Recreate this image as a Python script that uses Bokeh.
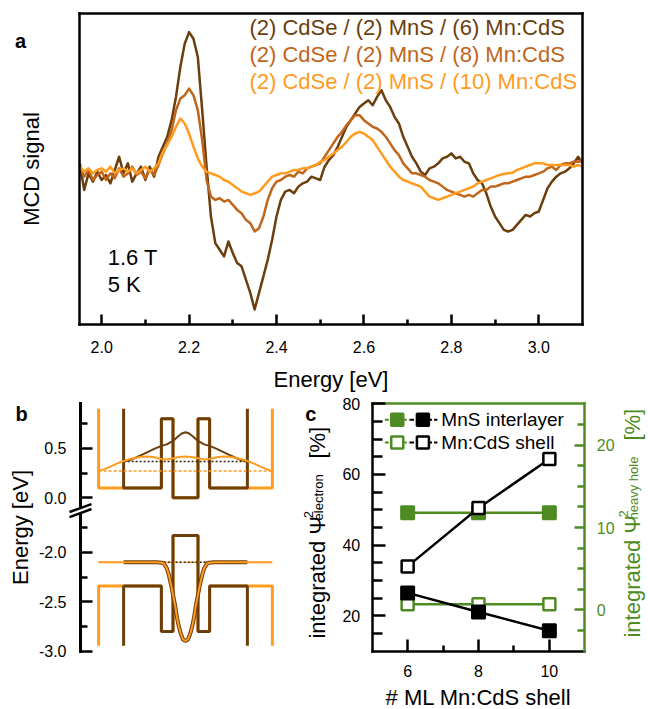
import math
from bokeh.plotting import figure
from bokeh.models import Range1d, LinearAxis, FixedTicker, Label, Arrow, PrintfTickFormatter
from bokeh.layouts import column, row
from bokeh.embed import file_html
from bokeh.resources import INLINE

FONT = "Liberation Sans"
C6 = "#6b3e0c"
C8 = "#c1651b"
C10 = "#ff9b1e"
GREEN = "#4e8c23"

# ---------------- panel a data ----------------
energy = [1.95, 1.96, 1.97, 1.98, 1.99,
          2.00, 2.01, 2.02, 2.03, 2.04, 2.05, 2.06, 2.07, 2.08, 2.09,
          2.10, 2.11, 2.12, 2.13, 2.14, 2.15, 2.16, 2.17, 2.18, 2.19,
          2.20, 2.21, 2.22, 2.23, 2.24, 2.25, 2.26, 2.27, 2.28, 2.29,
          2.30, 2.31, 2.32, 2.33, 2.34, 2.35, 2.36, 2.37, 2.38, 2.39,
          2.40, 2.41, 2.42, 2.43, 2.44, 2.45, 2.46, 2.47, 2.48, 2.49,
          2.50, 2.51, 2.52, 2.53, 2.54, 2.55, 2.56, 2.57, 2.58, 2.59,
          2.60, 2.61, 2.62, 2.63, 2.64, 2.65, 2.66, 2.67, 2.68, 2.69,
          2.70, 2.71, 2.72, 2.73, 2.74, 2.75, 2.76, 2.77, 2.78, 2.79,
          2.80, 2.81, 2.82, 2.83, 2.84, 2.85, 2.86, 2.87, 2.88, 2.89,
          2.90, 2.91, 2.92, 2.93, 2.94, 2.95, 2.96, 2.97, 2.98, 2.99,
          3.00, 3.01, 3.02, 3.03, 3.04, 3.05, 3.06, 3.07, 3.08, 3.09, 3.10]

mcd_6ml = [20, -60, -10, -35, -5, -30, -15, -40, 0, 40,
           -10, 20, -35, -10, 10, -30, 10, -20, 40, 70,
           100, 150, 220, 310, 380, 415, 395, 340, 180, 10,
           -140, -220, -240, -260, -215, -250, -280, -290, -330, -370,
           -420, -370, -320, -270, -210, -140, -90, -65, -60, -70,
           -50, -40, -35, -20, -25, -30, 10, 30, 45, 70,
           100, 130, 150, 170, 190, 200, 210, 195, 220, 240,
           210, 190, 160, 140, 100, 70, 40, 20, -5, -15,
           5, 10, 20, 35, 40, 50, 35, 40, 25, 20,
           -10, -30, -40, -70, -110, -140, -160, -180, -185, -180,
           -165, -150, -135, -140, -130, -125, -90, -55, -35, -20,
           -10, -5, 5, 20, 40, 20]

mcd_8ml = [10, -20, 0, -30, -15, -5, -30, -10, -25, 5,
           -20, -10, 10, -15, -5, -25, 0, -15, 15, 50,
           80, 120, 180, 215, 225, 245, 225, 180, 90, -30,
           -80, -90, -85, -95, -90, -105, -120, -130, -150, -160,
           -185, -175, -140, -90, -55, -35, -30, -20, -15, -20,
           -5, -10, 5, 10, 15, 20, 40, 60, 80, 100,
           115, 135, 150, 165, 165, 150, 140, 130, 125, 115,
           100, 80, 60, 45, 20, 5, -10, -10, -15, -20,
           -30, -35, -40, -50, -60, -65, -70, -75, -80, -75,
           -80, -70, -60, -60, -50, -50, -45, -40, -40, -35,
           -30, -25, -20, -20, -15, -10, -5, 5, 10, 0,
           15, 20, 20, 25, 25, 30]

mcd_10ml = [10, -5, 5, -10, 0, 5, -5, 10, -10, 0,
            5, -5, 5, -10, 0, 10, -5, 5, 20, 55,
            75, 100, 130, 155, 140, 110, 70, 35, 10, -5,
            -10, -15, -20, -30, -35, -45, -55, -65, -70, -75,
            -70, -65, -50, -35, -20, -15, -10, -10, -5, 0,
            0, 5, 5, 10, 15, 25, 30, 40, 50, 60,
            70, 85, 100, 110, 115, 110, 100, 90, 70, 50,
            30, 10, -5, -20, -30, -35, -40, -45, -50, -65,
            -80, -85, -90, -85, -80, -75, -70, -65, -60, -55,
            -50, -40, -35, -30, -25, -20, -15, -12, -10, -8,
            0, 5, 10, 15, 20, 20, 20, 15, 15, 15,
            15, 15, 15, 10, 15, 10]

series_names = ["(2) CdSe / (2) MnS / (6) Mn:CdS",
                "(2) CdSe / (2) MnS / (8) Mn:CdS",
                "(2) CdSe / (2) MnS / (10) Mn:CdS"]
a_ticks = [2.0, 2.2, 2.4, 2.6, 2.8, 3.0]
a_minor = [2.1, 2.3, 2.5, 2.7, 2.9]

# ---------------- panel b data ----------------
cb_x = [-4.95, -4.95, -1.93, -1.93, -1.0, -1.0, 1.0, 1.0, 1.93, 1.93, 4.95, 4.95]
cb_e = [0.90, 0.10, 0.10, 0.80, 0.80, 0.0, 0.0, 0.80, 0.80, 0.10, 0.10, 0.90]
cb_x_wide = [-6.95, -6.95, -1.93, -1.93, -1.0, -1.0, 1.0, 1.0, 1.93, 1.93, 6.95, 6.95]
vb_e = [-2.945, -2.34, -2.34, -2.80, -2.80, -1.83, -1.83, -2.80, -2.80, -2.34, -2.34, -2.945]

ewf_6_x = [-4.95, -4.5, -4.0, -3.5, -3.0, -2.5, -1.93, -1.5, -1.0, -0.6, -0.3, 0.0,
           0.3, 0.6, 1.0, 1.5, 1.93, 2.5, 3.0, 3.5, 4.0, 4.5, 4.95]
ewf_6_e = [0.367, 0.38, 0.405, 0.435, 0.465, 0.495, 0.525, 0.54, 0.575, 0.62, 0.65, 0.663,
           0.65, 0.62, 0.575, 0.54, 0.525, 0.495, 0.465, 0.435, 0.405, 0.38, 0.367]
ewf_10_x = [-6.95, -6.5, -6.0, -5.5, -5.0, -4.5, -4.0, -3.5, -3.0, -2.5, -1.93, -1.5, -1.0, -0.5, 0.0,
            0.5, 1.0, 1.5, 1.93, 2.5, 3.0, 3.5, 4.0, 4.5, 5.0, 5.5, 6.0, 6.5, 6.95]
ewf_10_e = [0.27, 0.29, 0.315, 0.345, 0.37, 0.39, 0.405, 0.415, 0.417, 0.41, 0.392, 0.388, 0.40, 0.413, 0.417,
            0.413, 0.40, 0.388, 0.392, 0.41, 0.417, 0.415, 0.405, 0.39, 0.37, 0.345, 0.315, 0.29, 0.27]
hwf_6_x = [-4.95, -2.3, -1.9, -1.75, -1.5, -1.35, -1.15, -0.95, -0.8, -0.68, -0.55, -0.41, -0.2, 0.0,
           0.2, 0.41, 0.55, 0.68, 0.8, 0.95, 1.15, 1.35, 1.5, 1.75, 1.9, 2.3, 4.95]
hwf_10_x = [-6.95, -2.3, -1.9, -1.75, -1.5, -1.35, -1.15, -0.95, -0.8, -0.68, -0.55, -0.41, -0.2, 0.0,
            0.2, 0.41, 0.55, 0.68, 0.8, 0.95, 1.15, 1.35, 1.5, 1.75, 1.9, 2.3, 6.95]
hwf_e = [-2.10, -2.10, -2.105, -2.11, -2.16, -2.22, -2.33, -2.46, -2.56, -2.66, -2.74, -2.81, -2.88, -2.895,
         -2.88, -2.81, -2.74, -2.66, -2.56, -2.46, -2.33, -2.22, -2.16, -2.11, -2.105, -2.10, -2.10]
e_level_6 = 0.367
e_level_10 = 0.27
h_level = -2.10
shell_edge_6 = 4.95
shell_edge_10 = 6.95
b_ticks = [0.5, 0.0, -0.55, -1.05, -1.55]
b_tick_labels = ["0.5", "0.0", "-2.0", "-2.5", "-3.0"]
b_minor = [0.75, 0.25, -0.30, -0.80, -1.30]

# ---------------- panel c data ----------------
ml = [6, 8, 10]
elec_mns = [26.5, 21.1, 15.8]
elec_shell = [34.0, 50.5, 64.4]
hole_mns = [11.8, 11.8, 11.8]
hole_shell = [0.7, 0.7, 0.7]


# ---------------- helpers ----------------
def xr(lo, hi, p_lo, p_hi, width):
    s = (hi - lo) / (p_hi - p_lo)
    return Range1d(lo - p_lo * s, hi + (width - p_hi) * s)


def yr(lo, hi, p_top, p_bot, height):
    s = (hi - lo) / (p_bot - p_top)
    return Range1d(lo - (height - p_bot) * s, hi + p_top * s)


def base_fig(width, height, x_range, y_range):
    p = figure(width=width, height=height, x_range=x_range, y_range=y_range,
               output_backend="svg", toolbar_location=None,
               min_border=0, min_border_left=0, min_border_right=0,
               min_border_top=0, min_border_bottom=0)
    p.xgrid.visible = False
    p.ygrid.visible = False
    p.background_fill_color = "white"
    p.border_fill_color = "white"
    p.outline_line_color = None
    return p


def style_axis(ax, color="black", tin=10, tmin=5, standoff=10, size="16px", lw=2.5):
    ax.axis_line_color = color
    ax.axis_line_width = lw
    ax.axis_line_cap = "square"
    ax.major_tick_line_color = color
    ax.minor_tick_line_color = color
    ax.major_tick_line_width = 2.5
    ax.minor_tick_line_width = 2.5
    ax.major_tick_in = tin
    ax.major_tick_out = 0
    ax.minor_tick_in = tmin
    ax.minor_tick_out = 0
    ax.major_label_text_font = FONT
    ax.major_label_text_font_size = size
    ax.major_label_text_color = color
    ax.major_label_standoff = standoff
    ax.axis_label_text_font = FONT
    ax.axis_label_text_font_size = "22px"
    ax.axis_label_text_font_style = "normal"
    ax.axis_label_text_color = color


def border_axis(p, side, loc, bounds, color="black", **kw):
    ax = LinearAxis(ticker=FixedTicker(ticks=[], minor_ticks=[]), **kw)
    style_axis(ax, color=color, standoff=0)
    ax.major_label_text_font_size = "0px"
    ax.fixed_location = loc
    ax.bounds = bounds
    p.add_layout(ax, side)
    return ax


def lab(p, x, y, text, color="black", size="22px", style="normal", angle=0.0,
        align="left", baseline="middle", **kw):
    p.add_layout(Label(x=x, y=y, text=text, text_color=color, text_font=FONT,
                       text_font_size=size, text_font_style=style, angle=angle,
                       text_align=align, text_baseline=baseline, **kw))


# ================= panel a =================
pa = base_fig(648, 395, xr(1.95, 3.10, 79.3, 582.0, 648), yr(-465, 472, 12.7, 324.0, 395))
xa = pa.xaxis[0]
style_axis(xa, tin=10, tmin=5, standoff=16)
xa.ticker = FixedTicker(ticks=a_ticks, minor_ticks=a_minor)
xa.formatter = PrintfTickFormatter(format="%.1f")
xa.fixed_location = -465
xa.bounds = (1.95, 3.10)
xa.axis_label = "Energy [eV]"
xa.axis_label_standoff = 11
ya = pa.yaxis[0]
style_axis(ya)
ya.ticker = FixedTicker(ticks=[], minor_ticks=[])
ya.major_label_text_font_size = "0px"
ya.fixed_location = 1.95
ya.bounds = (-465, 472)
ya.axis_label = "MCD signal"
ya.axis_label_standoff = 36
border_axis(pa, "above", 472, (1.95, 3.10))
border_axis(pa, "right", 3.10, (-465, 472))

for ys, c in ((mcd_6ml, C6), (mcd_8ml, C8), (mcd_10ml, C10)):
    pa.line(energy, ys, line_color=c, line_width=2.5, line_join="round")

for name, c, yy in zip(series_names, (C6, C8, C10), (429, 349, 266)):
    lab(pa, 2.338, yy, name, color=c)
lab(pa, 2.014, -262, "1.6 T")
lab(pa, 2.014, -345, "5 K")
lab(pa, 1.802, 388, "a", size="20px", style="bold", baseline="alphabetic")

# ================= panel b =================
pb = base_fig(300, 314, xr(-8.4, 8.4, 80.0, 290.0, 300), yr(-1.55, 0.95, 8.3, 255.8, 314))
pb.extra_y_ranges = {"low": yr(-3.0, -0.5, 8.3, 255.8, 314)}
pb.xaxis.visible = False
yb = pb.yaxis[0]
style_axis(yb, tin=12, tmin=7, standoff=14, lw=3)
yb.ticker = FixedTicker(ticks=b_ticks, minor_ticks=b_minor)
yb.major_label_overrides = dict(zip(b_ticks, b_tick_labels))
yb.fixed_location = -8.4
yb.bounds = (-1.55, 0.95)
yb.axis_label = "Energy [eV]"
yb.axis_label_standoff = 3

# potentials (orange = 10 ML shell, brown = 6 ML shell)
pb.line(cb_x_wide, cb_e, line_color=C10, line_width=3)
pb.line(cb_x_wide, vb_e, line_color=C10, line_width=3, y_range_name="low")
pb.line(cb_x, cb_e, line_color=C6, line_width=3)
pb.line(cb_x, vb_e, line_color=C6, line_width=3, y_range_name="low")
# levels
pb.line([-shell_edge_10, shell_edge_10], [e_level_10, e_level_10], line_color=C10, line_width=1.5, line_dash="3 2")
pb.line([-shell_edge_6, shell_edge_6], [e_level_6, e_level_6], line_color="#3a2206", line_width=1.5, line_dash="2 2")
pb.line([-shell_edge_10, shell_edge_10], [h_level, h_level], line_color=C10, line_width=1.5, line_dash="3 2", y_range_name="low")
pb.line([-shell_edge_6, shell_edge_6], [h_level, h_level], line_color="#3a2206", line_width=1.5, line_dash="2 2", y_range_name="low")
# wavefunctions
pb.line(ewf_6_x, ewf_6_e, line_color=C6, line_width=2, line_join="round")
pb.line(ewf_10_x, ewf_10_e, line_color=C10, line_width=2, line_join="round")
pb.line(hwf_6_x, hwf_e, line_color=C6, line_width=4, line_join="round", y_range_name="low")
pb.line(hwf_10_x, hwf_e, line_color=C10, line_width=2, line_join="round", y_range_name="low")

# axis break marks
pb.add_layout(Arrow(end=None, x_start=-9.28, y_start=-0.168, x_end=-7.52, y_end=-0.088,
                    line_color="white", line_width=5))
pb.add_layout(Arrow(end=None, x_start=-9.28, y_start=-0.143, x_end=-7.52, y_end=-0.063,
                    line_color="black", line_width=2.5))
pb.add_layout(Arrow(end=None, x_start=-9.28, y_start=-0.194, x_end=-7.52, y_end=-0.113,
                    line_color="black", line_width=2.5))
lab(pb, -13.6, 0.847, "b", size="20px", style="bold", baseline="alphabetic")

# ================= panel c =================
pc = base_fig(348, 314, xr(5, 11, 71.7, 284.3, 348), yr(10, 80, 8.3, 255.7, 314))
pc.extra_y_ranges = {"hole": yr(-5, 25, 8.3, 255.7, 314)}
xc = pc.xaxis[0]
style_axis(xc, tin=12, tmin=6, standoff=14)
xc.ticker = FixedTicker(ticks=[6, 8, 10], minor_ticks=[7, 9])
xc.fixed_location = 10
xc.bounds = (5, 11)
xc.axis_label = "# ML Mn:CdS shell"
xc.axis_label_standoff = 4
yc = pc.yaxis[0]
style_axis(yc, tin=13, tmin=10, standoff=12)
yc.ticker = FixedTicker(ticks=[20, 40, 60, 80], minor_ticks=[15, 25, 30, 35, 45, 50, 55, 65, 70, 75])
yc.fixed_location = 5
yc.bounds = (10, 80)
rc = LinearAxis(y_range_name="hole")
style_axis(rc, color=GREEN, tin=10, tmin=7, standoff=12)
rc.ticker = FixedTicker(ticks=[0, 10, 20], minor_ticks=[-2.5, 2.5, 5, 7.5, 12.5, 15, 17.5, 22.5])
rc.fixed_location = 11
rc.bounds = (-5, 25)
pc.add_layout(rc, "right")
border_axis(pc, "above", 80, (5, 11), color=GREEN)

pc.line(ml, hole_mns, line_color=GREEN, line_width=2.5, y_range_name="hole")
pc.line(ml, hole_shell, line_color=GREEN, line_width=2.5, y_range_name="hole")
pc.scatter(ml, hole_mns, marker="square", size=13, fill_color=GREEN, line_color=GREEN,
           line_width=2, y_range_name="hole")
pc.scatter(ml, hole_shell, marker="square", size=12, fill_color="white", line_color=GREEN,
           line_width=2.5, y_range_name="hole")
pc.line(ml, elec_mns, line_color="black", line_width=2.5)
pc.line(ml, elec_shell, line_color="black", line_width=2.5)
pc.scatter(ml, elec_mns, marker="square", size=13, fill_color="black", line_color="black", line_width=2)
pc.scatter(ml, elec_shell, marker="square", size=12, fill_color="white", line_color="black", line_width=2.5)

# legend
for yy, fill_g, fill_k, txt in ((75.47, GREEN, "black", "MnS interlayer"),
                                (69.05, "white", "white", "Mn:CdS shell")):
    pc.line([5.356, 6.069], [yy, yy], line_color=GREEN, line_width=2, line_dash="4 2")
    pc.line([6.069, 6.839], [yy, yy], line_color="black", line_width=2, line_dash="4 2")
    pc.scatter([5.707], [yy], marker="square", size=12, fill_color=fill_g, line_color=GREEN, line_width=2.5)
    pc.scatter([6.431], [yy], marker="square", size=12, fill_color=fill_k, line_color="black", line_width=2.5)
    lab(pc, 6.952, yy, txt, size="19px")

# composite axis titles
half = math.pi / 2
lab(pc, 3.452, 13.58, "integrated \u03a8", angle=half, baseline="alphabetic")
lab(pc, 3.198, 47.6, "2", size="13px", angle=half, baseline="alphabetic")
lab(pc, 3.481, 47.0, "electron", size="13px", angle=half, baseline="alphabetic")
lab(pc, 3.452, 64.5, "[%]", angle=half, baseline="alphabetic")

lab(pc, 12.335, 13.87, "integrated \u03a8", color=GREEN, angle=half, baseline="alphabetic")
lab(pc, 12.081, 47.86, "2", color=GREEN, size="13px", angle=half, baseline="alphabetic")
lab(pc, 12.363, 47.26, "heavy hole", color=GREEN, size="13px", angle=half, baseline="alphabetic")
lab(pc, 12.335, 69.6, "[%]", color=GREEN, angle=half, baseline="alphabetic")

lab(pc, 3.113, 77.17, "c", size="20px", style="bold", baseline="alphabetic")

layout = column(pa, row(pb, pc))
open("out.html", "w").write(file_html(layout, INLINE))
